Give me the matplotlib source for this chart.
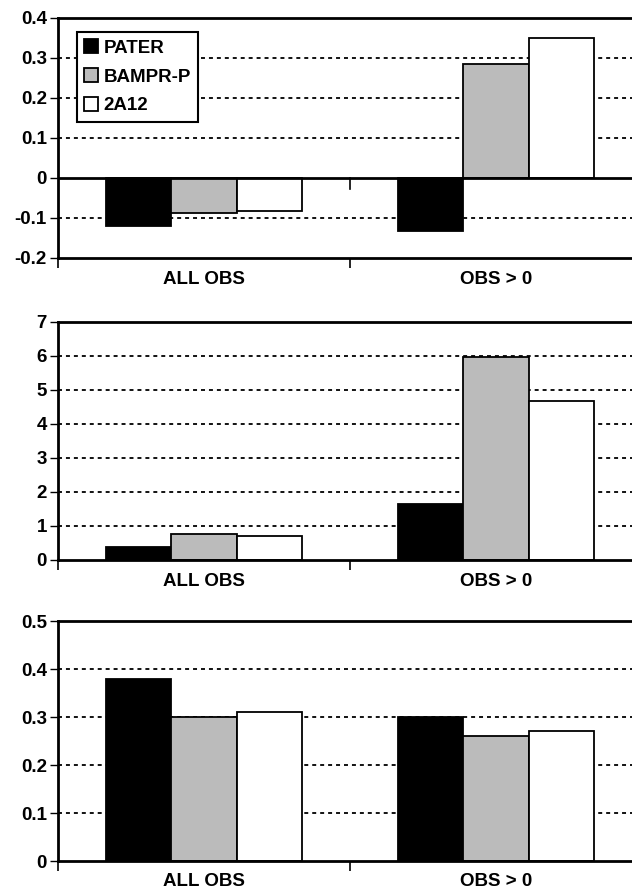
import matplotlib
matplotlib.use("Agg")
import matplotlib.pyplot as plt
import numpy as np

plt.rcParams["font.family"] = ["Liberation Sans", "DejaVu Sans"]
plt.rcParams["font.weight"] = "bold"
plt.rcParams["axes.unicode_minus"] = False

categories = ["ALL OBS", "OBS > 0"]
series_names = ["PATER", "BAMPR-P", "2A12"]
series_colors = ["#000000", "#bbbbbb", "#ffffff"]

# panel 1: bias
bias_pater = [-0.12, -0.133]
bias_bampr = [-0.087, 0.284]
bias_2a12 = [-0.082, 0.35]
bias_ticks = [0.4, 0.3, 0.2, 0.1, 0, -0.1, -0.2]
bias_labels = ["0.4", "0.3", "0.2", "0.1", "0", "-0.1", "-0.2"]

# panel 2
mid_pater = [0.37, 1.65]
mid_bampr = [0.77, 5.97]
mid_2a12 = [0.70, 4.68]
mid_ticks = [7, 6, 5, 4, 3, 2, 1, 0]
mid_labels = ["7", "6", "5", "4", "3", "2", "1", "0"]

# panel 3
low_pater = [0.38, 0.30]
low_bampr = [0.30, 0.26]
low_2a12 = [0.31, 0.27]
low_ticks = [0.5, 0.4, 0.3, 0.2, 0.1, 0]
low_labels = ["0.5", "0.4", "0.3", "0.2", "0.1", "0"]

FS = 13.5
W, H = 632, 890
fig = plt.figure(figsize=(W / 100, H / 100), dpi=100)

# axes boxes in pixels: left, top, right, bottom
boxes = [(58, 18, 642, 258), (58, 322, 642, 560), (58, 621, 642, 861)]


def make_axes(box):
    l, t, r, b = box
    return fig.add_axes([l / W, 1 - b / H, (r - l) / W, (b - t) / H])


def draw_panel(ax, values, ticks, labels, zero_line=False):
    x = np.arange(len(categories))
    width = 0.224
    offsets = [-width, 0, width]
    ymin, ymax = min(ticks), max(ticks)
    ax.set_xlim(-0.5, len(categories) - 0.5)
    ax.set_ylim(ymin, ymax)

    for t in ticks:
        if t not in (ymin, ymax, 0):
            ax.axhline(t, color="black", lw=1.3, linestyle=(0, (2.2, 2.2)), zorder=1)

    for vals, name, color, off in zip(values, series_names, series_colors, offsets):
        ax.bar(x + off, vals, width, color=color, edgecolor="black",
               linewidth=1.3, label=name, zorder=2)

    if zero_line:
        ax.axhline(0, color="black", lw=2, zorder=3)
        tick_len = 0.045 * (ymax - ymin)
        ax.plot([0.5, 0.5], [0, -tick_len], color="black", lw=1.2, zorder=3,
                clip_on=False)

    ax.set_yticks(ticks)
    ax.set_yticklabels(labels)
    ax.tick_params(axis="y", direction="out", length=6, width=1, pad=2, labelsize=FS)

    ax.set_xticks([-0.5, 0.5])
    ax.set_xticklabels(["", ""])
    ax.set_xticks(x, minor=True)
    ax.set_xticklabels(categories, minor=True)
    ax.tick_params(axis="x", which="major", direction="out", length=7.5, width=1.2)
    ax.tick_params(axis="x", which="minor", length=0, pad=9, labelsize=FS)

    for side in ["left", "top", "bottom"]:
        ax.spines[side].set_linewidth(2)
        ax.spines[side].set_color("black")
    ax.spines["right"].set_visible(False)


ax1 = make_axes(boxes[0])
draw_panel(ax1, [bias_pater, bias_bampr, bias_2a12], bias_ticks, bias_labels, zero_line=True)
leg = ax1.legend(loc="upper left", bbox_to_anchor=(0.0325, 0.942), fancybox=False,
                 framealpha=1, edgecolor="black", handlelength=0.72, handleheight=0.72,
                 handletextpad=0.3, labelspacing=0.62, borderpad=0.4, borderaxespad=0,
                 prop={"size": FS, "weight": "bold"})
leg.get_frame().set_linewidth(1.5)
leg.set_zorder(5)

ax2 = make_axes(boxes[1])
draw_panel(ax2, [mid_pater, mid_bampr, mid_2a12], mid_ticks, mid_labels)

ax3 = make_axes(boxes[2])
draw_panel(ax3, [low_pater, low_bampr, low_2a12], low_ticks, low_labels)

fig.savefig("out.png", dpi=100)
